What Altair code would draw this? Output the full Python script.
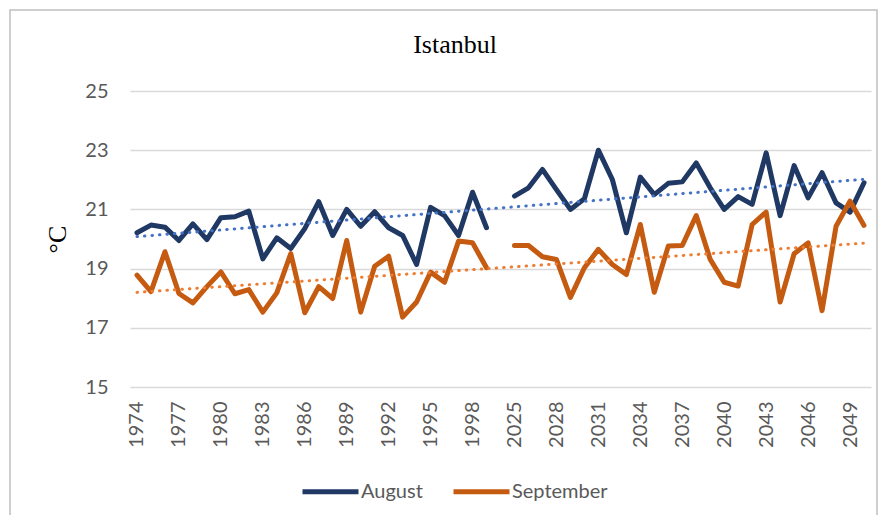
import json
import altair as alt
import pandas as pd

# ---- data ----
years = ["1974", "1975", "1976", "1977", "1978", "1979", "1980", "1981", "1982",
         "1983", "1984", "1985", "1986", "1987", "1988", "1989", "1990", "1991",
         "1992", "1993", "1994", "1995", "1996", "1997", "1998", "1999", "",
         "2025", "2026", "2027", "2028", "2029", "2030", "2031", "2032", "2033",
         "2034", "2035", "2036", "2037", "2038", "2039", "2040", "2041", "2042",
         "2043", "2044", "2045", "2046", "2047", "2048", "2049", "2050"]

august = [20.21, 20.47, 20.40, 19.95, 20.51, 19.98, 20.72, 20.75, 20.94,
          19.33, 20.04, 19.68, 20.35, 21.26, 20.12, 21.00, 20.43, 20.92,
          20.38, 20.12, 19.14, 21.07, 20.79, 20.12, 21.58, 20.38, None,
          21.45, 21.73, 22.35, 21.67, 21.00, 21.36, 23.00, 22.01, 20.21,
          22.09, 21.50, 21.88, 21.93, 22.57, 21.73, 21.00, 21.43, 21.17,
          22.91, 20.79, 22.48, 21.39, 22.24, 21.22, 20.91, 21.90]

september = [18.78, 18.22, 19.57, 18.16, 17.84, 18.39, 18.89, 18.15, 18.29,
             17.53, 18.18, 19.51, 17.51, 18.39, 17.99, 19.95, 17.53, 19.08,
             19.42, 17.36, 17.87, 18.88, 18.54, 19.93, 19.87, 19.03, None,
             19.78, 19.78, 19.40, 19.31, 18.03, 19.03, 19.65, 19.14, 18.80,
             20.49, 18.20, 19.76, 19.78, 20.79, 19.31, 18.54, 18.41, 20.49,
             20.91, 17.87, 19.50, 19.87, 17.58, 20.43, 21.28, 20.46]

series_names = ["August", "September"]
series_colors = ["#203864", "#C55A11"]
trend_colors = ["#4472C4", "#ED7D31"]
tick_positions = [0, 3, 6, 9, 12, 15, 18, 21, 24, 27, 30, 33, 36, 39, 42, 45, 48, 51]
y_ticks = [15, 17, 19, 21, 23, 25]
chart_title = "Istanbul"

rows = []
for name, vals in zip(series_names, [august, september]):
    for i, v in enumerate(vals):
        if v is None:
            continue
        rows.append({"idx": i, "year": years[i], "series": name, "val": v,
                     "segment": 0 if i < 26 else 1})
df = pd.DataFrame(rows)

label_expr = json.dumps(years) + "[datum.value]"

x_enc = alt.X("idx:Q",
              scale=alt.Scale(domain=[-0.5, len(years) - 0.5], nice=False, zero=False),
              axis=alt.Axis(values=tick_positions, labelExpr=label_expr, labelAngle=-90,
                            grid=False, ticks=False, domain=False, labelFont="Lato",
                            labelFontSize=20, labelColor="#595959", labelPadding=14,
                            title=None))
y_enc = alt.Y("val:Q",
              scale=alt.Scale(domain=[15, 25], nice=False, zero=False),
              axis=alt.Axis(values=y_ticks, grid=True, gridColor="#D9D9D9", gridWidth=1.5,
                            ticks=False, domain=False, labelFont="Lato", labelFontSize=20,
                            labelColor="#595959", labelPadding=22, title="°C",
                            titleFont="Liberation Serif", titleFontSize=26,
                            titleFontWeight="normal", titleColor="black", titlePadding=14))

base = alt.Chart(df)

lines = base.mark_line(strokeWidth=5, strokeCap="round", strokeJoin="round").encode(
    x=x_enc, y=y_enc,
    color=alt.Color("series:N",
                    scale=alt.Scale(domain=series_names, range=series_colors),
                    legend=alt.Legend(orient="none", legendX=170, legendY=370,
                                      direction="horizontal", title=None,
                                      symbolType="stroke", symbolSize=3136,
                                      symbolStrokeWidth=5, labelFont="Lato",
                                      labelFontSize=20, labelColor="#595959",
                                      columnPadding=20, labelOffset=0, padding=0)),
    detail="segment:N",
)

trends = []
for name, col in zip(series_names, trend_colors):
    t = base.transform_filter(alt.datum.series == name).transform_regression(
        "idx", "val", extent=[0, len(years) - 1]
    ).mark_line(color=col, strokeWidth=3, strokeDash=[0.5, 7], strokeCap="round").encode(
        x=x_enc, y=y_enc
    )
    trends.append(t)

deco = alt.Chart(pd.DataFrame({"t": [chart_title]}))

border = deco.mark_rect(
    fillOpacity=0, stroke="#BFBFBF", strokeWidth=1.5, clip=False
).encode(x=alt.value(-120), x2=alt.value(747), y=alt.value(-81), y2=alt.value(440))

title_text = deco.mark_text(
    font="Liberation Serif", fontSize=26, color="black", align="center",
    baseline="alphabetic", clip=False
).encode(text="t:N", x=alt.value(325), y=alt.value(-38))

chart = alt.layer(lines, *trends, border, title_text).properties(
    width=741, height=296,
    autosize=alt.AutoSizeParams(type="none"),
    padding={"left": 122, "top": 83, "right": 9, "bottom": 128},
).configure_view(stroke=None)

chart.save("out.html", embed_options={"renderer": "svg", "actions": False})
